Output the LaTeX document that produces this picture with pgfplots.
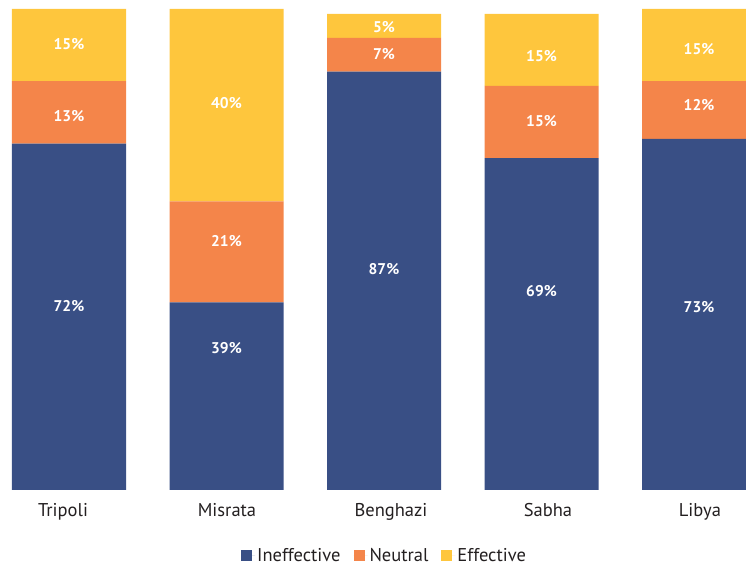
\documentclass[border=0pt]{standalone}
\usepackage{pgfplots}
\pgfplotsset{compat=1.18}
\usepackage{pgfplotstable}
\usepackage{fontspec}
\setmainfont{PT Sans}
\definecolor{cblue}{HTML}{394F85}
\definecolor{corange}{HTML}{F4854A}
\definecolor{cyellow}{HTML}{FEC63D}
\definecolor{ctext}{HTML}{231F20}
\pgfplotstableread{
x ineff neut eff
0 72 13 15
1 39 21 40
2 87 7 5
3 69 15 15
4 73 12 15
}\data
% label positions (y of the label centre) and label text
\pgfplotstableread{
x y lab
0 38.2 72
1 29.6 39
2 46.0 87
3 41.4 69
4 38.0 73
0 77.8 13
1 51.8 21
2 90.7 7
3 76.8 15
4 80.0 12
0 92.8 15
1 80.4 40
2 96.25 5
3 90.3 15
4 91.6 15
}\labels
\pgfplotsset{
  base/.style={
    at={(12pt,79pt)}, anchor=south west,
    scale only axis, width=734pt, height=481pt,
    xmin=-0.3619, xmax=4.2984, ymin=0, ymax=100,
  }
}
\begin{document}
\begin{tikzpicture}
\useasboundingbox (0,0) rectangle (746pt,569pt);
\begin{axis}[
  base,
  ybar stacked, bar width=114pt,
  axis line style={draw=none},
  major tick length=0pt,
  ytick=\empty,
  xtick={-0.038,1.003,2.044,3.041,4.006},
  xticklabels={Tripoli,Misrata,Benghazi,Sabha,Libya},
  xticklabel style={anchor=base, yshift=-27pt, font=\fontsize{18.5}{22}\selectfont, text=ctext},
  legend columns=3,
  legend style={at={(0.5075,0)}, anchor=center, yshift=-66pt, draw=none, fill=none,
    font=\fontsize{18.5}{22}\selectfont, text=ctext,
    /tikz/every even column/.append style={column sep=11pt}},
  legend image code/.code={\fill[#1] (0pt,-5.5pt) rectangle (11pt,5.5pt); \path (0pt,0pt) -- (14pt,0pt);},
]
\addplot[fill=cblue, draw=none] table[x=x, y=ineff] {\data};
\addlegendentry{Ineffective}
\addplot[fill=corange, draw=none] table[x=x, y=neut] {\data};
\addlegendentry{Neutral}
\addplot[fill=cyellow, draw=none] table[x=x, y=eff] {\data};
\addlegendentry{Effective}
\end{axis}
\begin{axis}[base, hide axis]
\addplot[draw=none, mark=none, only marks,
  nodes near coords={\pgfplotspointmeta\%},
  point meta=explicit symbolic,
  every node near coord/.append style={anchor=center, text=white, font=\fontsize{15.5}{18}\selectfont\bfseries}]
  table[x=x, y=y, meta=lab] {\labels};
\end{axis}
\end{tikzpicture}
\end{document}
